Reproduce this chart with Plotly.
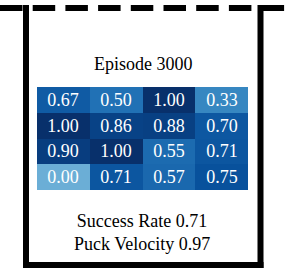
import plotly.graph_objects as go

# Data
col_labels = ["c1", "c2", "c3", "c4"]
row_labels = ["r1", "r2", "r3", "r4"]
values = [
    [0.67, 0.50, 1.00, 0.33],
    [1.00, 0.86, 0.88, 0.70],
    [0.90, 1.00, 0.55, 0.71],
    [0.00, 0.71, 0.57, 0.75],
]
title_text = "Episode 3000"
success_rate = 0.71
puck_velocity = 0.97

W, H = 287, 273
FONT = "Liberation Serif"

def px(x):
    return x / W

def py(y):
    return 1 - y / H

blues = [
    [0.0, "#6baed6"],
    [0.25, "#4292c6"],
    [0.5, "#2171b5"],
    [0.75, "#08519c"],
    [1.0, "#08306b"],
]

fig = go.Figure()
fig.add_trace(go.Heatmap(
    z=values, x=col_labels, y=row_labels,
    colorscale=blues, zmin=0, zmax=1, showscale=False,
    texttemplate="%{z:.2f}",
    textfont=dict(family=FONT, size=18, color="white"),
    hoverinfo="skip",
))

fig.update_layout(
    width=W, height=H,
    margin=dict(l=0, r=0, t=0, b=0),
    paper_bgcolor="white", plot_bgcolor="white",
    font=dict(family=FONT),
    xaxis=dict(domain=[px(37), px(248)], visible=False, fixedrange=True),
    yaxis=dict(domain=[py(190), py(87)], visible=False, autorange="reversed", fixedrange=True),
    showlegend=False,
)

lw = 6
line = dict(color="black", width=lw)
# top dashed line
fig.add_shape(type="line", xref="paper", yref="paper",
              x0=0, x1=1, y0=py(8), y1=py(8),
              line=dict(color="black", width=lw, dash="22.5px,10.2px"))
# left and right walls
fig.add_shape(type="line", xref="paper", yref="paper",
              x0=px(26), x1=px(26), y0=py(5), y1=py(268), line=line)
fig.add_shape(type="line", xref="paper", yref="paper",
              x0=px(260.5), x1=px(260.5), y0=py(5), y1=py(268), line=line)
# bottom
fig.add_shape(type="line", xref="paper", yref="paper",
              x0=px(23), x1=px(263.5), y0=py(265), y1=py(265), line=line)

fig.add_annotation(xref="paper", yref="paper", x=px(143), y=py(64),
                   text=title_text, showarrow=False,
                   xanchor="center", yanchor="middle",
                   font=dict(family=FONT, size=18, color="black"))
fig.add_annotation(xref="paper", yref="paper", x=px(142), y=py(232),
                   text=f"Success Rate {success_rate:.2f}<br>Puck Velocity {puck_velocity:.2f}",
                   showarrow=False, xanchor="center", yanchor="middle",
                   font=dict(family=FONT, size=18, color="black"))

fig.write_html("out.html", config={"displayModeBar": False},
               post_script="document.body.style.margin='0';document.body.style.padding='0';")
